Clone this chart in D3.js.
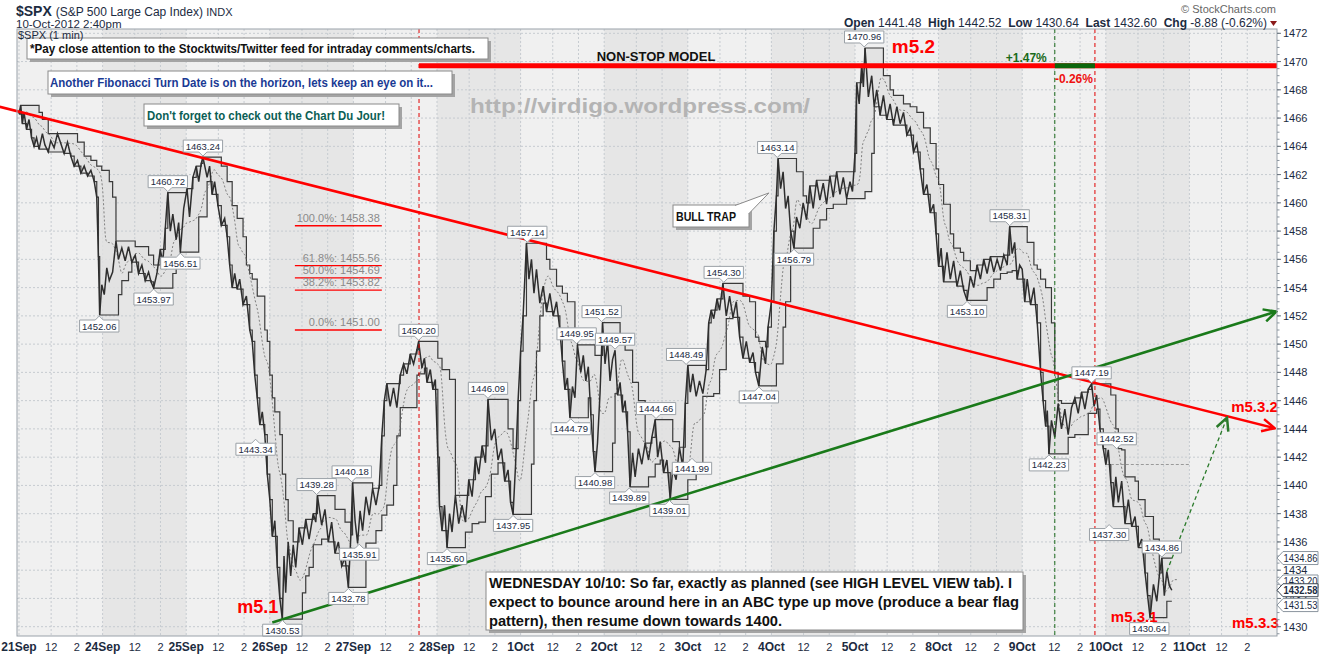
<!DOCTYPE html>
<html>
<head>
<meta charset="utf-8">
<script src="https://cdn.jsdelivr.net/npm/d3@7"></script>
<style>
  body { margin: 0; background: #fff; }
  text { font-family: "Liberation Sans", Arial, sans-serif; }
</style>
</head>
<body>
<svg id="chart" width="1320" height="655"></svg>
<script>
// ---- data (t = trading days since 21Sep open, 1 day = 390 min) ----
const dayLabels = ["21Sep", "24Sep", "25Sep", "26Sep", "27Sep", "28Sep", "1Oct", "2Oct",
  "3Oct", "4Oct", "5Oct", "8Oct", "9Oct", "10Oct", "11Oct"];
const hourTicks = [["12", 150 / 390], ["2", 270 / 390]];
const yTicks = d3.range(1430, 1473, 2);

const prices = [
  [0.00,1466.3],[0.02,1466.9],[0.04,1465.6],[0.06,1466.4],[0.09,1465.2],[0.12,1465.9],[0.15,1464.6],[0.18,1464.0],
  [0.21,1464.6],[0.24,1463.8],[0.28,1464.9],[0.31,1464.1],[0.35,1463.6],[0.38,1464.4],[0.42,1463.9],[0.46,1464.9],
  [0.50,1464.2],[0.54,1463.5],[0.58,1464.3],[0.62,1463.3],[0.66,1462.6],[0.70,1463.0],[0.74,1462.1],[0.78,1462.6],
  [0.82,1461.9],[0.86,1462.3],[0.90,1461.5],[0.93,1460.4],[0.95,1456.2],[0.965,1452.06],[0.99,1454.2],[1.02,1453.5],
  [1.05,1455.4],[1.08,1454.5],[1.12,1455.1],[1.16,1457.3],[1.19,1456.0],[1.23,1456.8],[1.27,1455.9],[1.31,1456.9],
  [1.35,1455.8],[1.39,1456.3],[1.43,1455.0],[1.47,1455.6],[1.51,1454.5],[1.55,1455.1],[1.58,1454.4],[1.61,1453.97],
  [1.65,1455.0],[1.69,1456.7],[1.72,1455.8],[1.75,1458.2],[1.78,1460.72],[1.81,1458.0],[1.84,1459.2],[1.88,1457.4],
  [1.91,1458.6],[1.93,1456.51],[1.97,1459.6],[2.01,1461.0],[2.04,1459.0],[2.08,1461.8],[2.12,1462.6],[2.15,1461.5],
  [2.18,1462.8],[2.20,1463.24],[2.25,1461.8],[2.28,1462.6],[2.31,1460.6],[2.34,1461.5],[2.38,1459.8],[2.42,1458.4],
  [2.46,1458.9],[2.49,1457.6],[2.52,1455.6],[2.55,1454.0],[2.58,1455.0],[2.61,1453.9],[2.64,1454.6],[2.68,1452.8],
  [2.72,1453.4],[2.76,1451.0],[2.79,1450.2],[2.82,1447.8],[2.85,1446.2],[2.88,1444.3],[2.91,1445.2],[2.94,1443.6],
  [2.97,1440.8],[3.00,1439.0],[3.03,1436.4],[3.06,1437.5],[3.09,1434.2],[3.12,1432.0],[3.15,1430.53],[3.17,1435.0],
  [3.19,1432.4],[3.22,1436.0],[3.25,1433.6],[3.28,1435.8],[3.31,1434.2],[3.35,1437.0],[3.39,1435.8],[3.43,1437.6],
  [3.47,1436.2],[3.52,1438.0],[3.55,1437.4],[3.57,1439.28],[3.62,1437.2],[3.66,1438.3],[3.70,1436.0],[3.74,1437.4],
  [3.78,1435.2],[3.82,1436.0],[3.86,1434.3],[3.90,1434.9],[3.94,1432.78],[3.97,1436.5],[3.99,1440.18],[4.02,1437.5],
  [4.05,1435.91],[4.08,1438.2],[4.11,1436.8],[4.15,1439.2],[4.19,1437.9],[4.23,1439.8],[4.27,1438.6],[4.31,1440.0],
  [4.34,1443.5],[4.37,1446.0],[4.40,1447.2],[4.44,1445.6],[4.48,1446.9],[4.52,1445.5],[4.56,1447.8],[4.60,1448.6],
  [4.64,1447.9],[4.68,1449.3],[4.72,1448.6],[4.76,1449.6],[4.78,1450.20],[4.82,1448.3],[4.85,1449.0],[4.88,1447.3],
  [4.92,1448.2],[4.95,1446.8],[4.98,1447.5],[5.01,1442.0],[5.03,1438.5],[5.06,1436.8],[5.09,1438.6],[5.12,1435.60],
  [5.15,1438.0],[5.18,1436.7],[5.22,1439.3],[5.26,1437.3],[5.30,1438.6],[5.34,1437.4],[5.38,1440.4],[5.42,1439.2],
  [5.46,1442.0],[5.50,1440.8],[5.54,1442.8],[5.58,1441.6],[5.61,1446.09],[5.65,1443.2],[5.69,1444.0],[5.73,1441.8],
  [5.77,1442.6],[5.81,1440.3],[5.85,1441.1],[5.88,1438.8],[5.91,1437.95],[5.94,1441.5],[5.97,1446.0],[6.00,1449.5],
  [6.03,1452.0],[6.07,1457.14],[6.10,1454.6],[6.13,1456.0],[6.16,1453.6],[6.19,1455.3],[6.23,1452.9],[6.27,1454.1],
  [6.31,1452.3],[6.35,1453.6],[6.39,1452.0],[6.43,1453.0],[6.47,1451.0],[6.50,1448.8],[6.53,1446.8],[6.56,1447.6],
  [6.59,1444.79],[6.62,1447.0],[6.65,1446.2],[6.68,1449.95],[6.72,1448.0],[6.75,1449.2],[6.78,1447.4],[6.81,1448.4],
  [6.84,1445.0],[6.87,1442.4],[6.89,1440.98],[6.92,1443.0],[6.95,1446.5],[6.98,1451.52],[7.01,1448.6],[7.04,1450.2],
  [7.07,1447.4],[7.10,1448.9],[7.13,1449.57],[7.16,1446.4],[7.19,1447.3],[7.22,1445.2],[7.25,1446.0],[7.28,1443.8],
  [7.31,1439.89],[7.34,1442.3],[7.37,1440.6],[7.41,1442.6],[7.45,1441.5],[7.49,1443.0],[7.53,1441.8],[7.57,1443.4],
  [7.61,1444.66],[7.64,1442.0],[7.67,1443.1],[7.71,1440.9],[7.75,1441.8],[7.79,1439.01],[7.82,1441.2],[7.86,1440.4],
  [7.90,1442.7],[7.94,1441.3],[7.97,1445.8],[8.00,1448.49],[8.03,1446.6],[8.06,1447.9],[8.10,1446.3],[8.14,1447.4],
  [8.18,1446.5],[8.22,1448.2],[8.25,1451.5],[8.28,1452.4],[8.31,1451.8],[8.35,1453.2],[8.38,1452.4],[8.42,1454.30],
  [8.46,1452.0],[8.50,1453.4],[8.54,1451.9],[8.58,1453.0],[8.62,1450.5],[8.66,1449.0],[8.70,1450.2],[8.74,1448.7],
  [8.78,1449.4],[8.81,1448.0],[8.85,1447.04],[8.89,1449.8],[8.93,1448.6],[8.96,1451.2],[9.00,1453.0],[9.03,1458.0],
  [9.06,1460.5],[9.08,1463.14],[9.11,1461.0],[9.14,1462.2],[9.17,1459.6],[9.20,1460.5],[9.23,1458.0],[9.27,1456.79],
  [9.30,1459.0],[9.34,1458.2],[9.38,1460.0],[9.42,1458.8],[9.46,1461.2],[9.50,1459.6],[9.54,1461.6],[9.58,1460.2],
  [9.62,1461.4],[9.66,1459.9],[9.70,1461.9],[9.74,1460.4],[9.78,1462.2],[9.82,1460.6],[9.86,1461.8],[9.90,1460.3],
  [9.94,1461.5],[9.97,1460.8],[10.00,1463.5],[10.02,1468.5],[10.05,1467.0],[10.08,1469.8],[10.10,1468.2],[10.12,1470.96],
  [10.16,1467.5],[10.20,1469.0],[10.23,1466.8],[10.26,1468.0],[10.30,1466.2],[10.34,1467.6],[10.38,1465.9],[10.42,1467.0],
  [10.46,1465.5],[10.50,1466.8],[10.54,1465.6],[10.58,1466.4],[10.62,1464.8],[10.66,1465.3],[10.70,1463.6],[10.74,1464.2],
  [10.78,1462.4],[10.82,1460.6],[10.86,1461.3],[10.90,1459.3],[10.94,1459.9],[10.97,1457.8],[11.00,1455.5],[11.03,1456.8],
  [11.06,1454.4],[11.10,1456.5],[11.14,1454.6],[11.18,1455.9],[11.22,1454.1],[11.26,1455.2],[11.30,1453.8],[11.34,1453.10],
  [11.38,1454.8],[11.42,1454.0],[11.46,1455.6],[11.50,1454.6],[11.54,1456.0],[11.58,1455.0],[11.62,1456.2],[11.66,1455.1],
  [11.70,1456.0],[11.74,1455.2],[11.78,1456.3],[11.82,1455.6],[11.85,1458.31],[11.88,1456.4],[11.91,1457.2],[11.94,1454.6],
  [11.97,1455.6],[12.00,1455.3],[12.03,1453.0],[12.06,1454.6],[12.10,1452.8],[12.14,1454.0],[12.18,1451.5],[12.22,1448.0],
  [12.25,1446.0],[12.28,1444.2],[12.30,1445.3],[12.32,1442.23],[12.35,1444.6],[12.39,1443.4],[12.43,1445.8],[12.47,1444.0],
  [12.51,1445.4],[12.55,1443.6],[12.59,1445.5],[12.63,1446.2],[12.67,1445.1],[12.71,1446.6],[12.75,1445.4],[12.79,1446.8],
  [12.83,1447.19],[12.86,1445.6],[12.89,1446.4],[12.93,1444.0],[12.97,1442.6],[13.00,1441.48],[13.03,1442.52],[13.06,1440.2],
  [13.09,1438.5],[13.12,1440.6],[13.15,1438.8],[13.19,1440.3],[13.23,1437.30],[13.27,1439.0],[13.31,1437.1],[13.35,1437.8],
  [13.39,1435.6],[13.43,1436.2],[13.47,1433.8],[13.50,1432.2],[13.53,1430.64],[13.57,1433.0],[13.61,1431.8],[13.64,1433.6],
  [13.67,1434.86],[13.70,1432.2],[13.73,1433.9],[13.76,1432.9],[13.79,1432.58]
];

// swing high / low labels: [t, value, "h" | "l"]
const swingLabels = [
  [0.96,1452.06,"l"],[1.61,1453.97,"l"],[1.93,1456.51,"l"],[1.78,1460.72,"h"],[2.20,1463.24,"h"],
  [2.83,1443.34,"l"],[3.15,1430.53,"l"],[3.56,1439.28,"h"],[3.98,1440.18,"h"],[4.07,1435.91,"l"],
  [3.94,1432.78,"l"],[4.78,1450.20,"h"],[5.61,1446.09,"h"],[5.12,1435.60,"l"],[5.91,1437.95,"l"],
  [6.08,1457.14,"h"],[6.67,1449.95,"h"],[6.60,1444.79,"l"],[6.97,1451.52,"h"],[7.13,1449.57,"h"],
  [6.89,1440.98,"l"],[7.30,1439.89,"l"],[7.62,1444.66,"h"],[7.78,1439.01,"l"],[8.05,1441.99,"l"],
  [7.98,1448.49,"h"],[8.43,1454.30,"h"],[8.85,1447.04,"l"],[9.07,1463.14,"h"],[9.27,1456.79,"l"],
  [10.11,1470.96,"h"],[11.85,1458.31,"h"],[11.34,1453.10,"l"],[12.83,1447.19,"h"],[12.32,1442.23,"l"],
  [13.13,1442.52,"h"],[13.04,1437.30,"l"],[13.67,1434.86,"h"],[13.52,1430.64,"l"]
];

const fibLevels = [["100.0%", 1458.38], ["61.8%", 1455.56], ["50.0%", 1454.69], ["38.2%", 1453.82], ["0.0%", 1451.00]];
const fibSpan = [3.30, 4.34];

const lastTags = [[1434.86, false], [1433.20, false], [1432.58, true], [1431.53, false]];
const prevClose = 1441.48;

const redTrend = [[-0.23, 1466.8], [15.02, 1444.05]];
const greenTrend = [[3.03, 1430.3], [15.04, 1452.3]];
const projection = [[13.73, 1433.9], [14.45, 1444.8]];

const modelLevel = 1469.7;
const modelStart = 4.785, buyMark = 12.39, sellMark = 12.87;

// wave counts: [label, t, price at baseline, font size]
const waves = [
  ["m5.2", 10.44, 1470.6, 19], ["m5.1", 2.61, 1430.97, 18], ["m5.3.1", 13.06, 1430.34, 15],
  ["m5.3.2", 14.50, 1445.2, 15], ["m5.3.3", 14.51, 1429.93, 15]
];

// ---- layout ----
const svg = d3.select("#chart");
const plot = { left: 17, right: 1277, top: 29, bottom: 636 };
const x = d3.scaleLinear().domain([0, 15]).range([19, 1273]);
const y = d3.scaleLinear().domain([1430, 1472]).range([626.7, 33.3]);
const ink = "#1c2b3f";

const defs = svg.append("defs");
defs.append("clipPath").attr("id", "plotClip")
  .append("rect").attr("x", plot.left).attr("y", plot.top)
  .attr("width", plot.right - plot.left).attr("height", plot.bottom - plot.top);

function arrowMarker(id, color) {
  defs.append("marker").attr("id", id)
    .attr("viewBox", "0 0 12 12").attr("refX", 11).attr("refY", 6)
    .attr("markerWidth", 15).attr("markerHeight", 15)
    .attr("markerUnits", "userSpaceOnUse").attr("orient", "auto")
    .append("path").attr("d", "M1,1 L11,6 L1,11")
    .attr("fill", "none").attr("stroke", color).attr("stroke-width", 2);
}
arrowMarker("arrRed", "#ff0000");
arrowMarker("arrGreen", "#1a7a1a");
arrowMarker("arrGreenDash", "#2a7a2a");

const g = svg.append("g").attr("clip-path", "url(#plotClip)");

// background with alternate day shading
g.append("rect").attr("x", plot.left).attr("y", plot.top)
  .attr("width", plot.right - plot.left).attr("height", plot.bottom - plot.top)
  .attr("fill", "#f0f0f0");
g.selectAll("rect.day").data(d3.range(1, 15, 2)).join("rect")
  .attr("class", "day")
  .attr("x", d => x(d)).attr("width", d => x(d + 1) - x(d))
  .attr("y", plot.top).attr("height", plot.bottom - plot.top)
  .attr("fill", "#e6e6e6");

// grid
const vTicks = [];
dayLabels.forEach((lab, d) => {
  vTicks.push({ t: d, label: lab, bold: true });
  hourTicks.forEach(([h, off]) => vTicks.push({ t: d + off, label: h, bold: false }));
});
g.selectAll("line.vgrid").data(vTicks).join("line")
  .attr("x1", d => x(d.t)).attr("x2", d => x(d.t))
  .attr("y1", plot.top).attr("y2", plot.bottom)
  .attr("stroke", "#c6cbd0").attr("stroke-dasharray", "2,2");
g.selectAll("line.hgrid").data(yTicks).join("line")
  .attr("x1", plot.left).attr("x2", plot.right)
  .attr("y1", d => y(d)).attr("y2", d => y(d))
  .attr("stroke", "#c6cbd0").attr("stroke-dasharray", "2,2");

// price channel (rolling high / low)
const win = 0.2;
const channel = prices.map(([t]) => {
  const w = prices.filter(d => d[0] <= t && d[0] >= t - win);
  const hi = d3.max(w, d => d[1]), lo = d3.min(w, d => d[1]);
  return { t, hi, lo, mid: (hi + lo) / 2 };
});
g.append("path").datum(channel)
  .attr("d", d3.area().curve(d3.curveStepAfter).x(d => x(d.t)).y0(d => y(d.lo)).y1(d => y(d.hi)))
  .attr("fill", "#e0e0e0").attr("fill-opacity", 0.85);
["hi", "lo"].forEach(k => {
  g.append("path").datum(channel)
    .attr("d", d3.line().curve(d3.curveStepAfter).x(d => x(d.t)).y(d => y(d[k])))
    .attr("fill", "none").attr("stroke", "#3a3a3a").attr("stroke-width", 1.2);
});
g.append("path").datum(channel)
  .attr("d", d3.line().curve(d3.curveBasis).x(d => x(d.t + win / 3)).y(d => y(d.mid)))
  .attr("fill", "none").attr("stroke", "#666").attr("stroke-width", 0.8).attr("stroke-dasharray", "2,2");

// previous close reference
g.append("line").attr("x1", x(13)).attr("x2", x(14))
  .attr("y1", y(prevClose)).attr("y2", y(prevClose))
  .attr("stroke", "#999").attr("stroke-dasharray", "3,2");

// fibonacci levels
fibLevels.forEach(([pct, v]) => {
  g.append("line").attr("x1", x(fibSpan[0])).attr("x2", x(fibSpan[1]))
    .attr("y1", y(v)).attr("y2", y(v)).attr("stroke", "#ff0000").attr("stroke-width", 1.3);
  g.append("text").attr("x", x(fibSpan[1]) - 2).attr("y", y(v) - 4)
    .attr("text-anchor", "end").attr("font-size", 11).attr("fill", "#8a8a8a")
    .text(`${pct}: ${v.toFixed(2)}`);
});

// price
g.append("path").datum(prices)
  .attr("d", d3.line().x(d => x(d[0])).y(d => y(d[1])))
  .attr("fill", "none").attr("stroke", "#2e2e2e").attr("stroke-width", 1.5);

// vertical markers
[[modelStart, "#e00000"], [buyMark, "#1a6a1a"], [sellMark, "#e00000"]].forEach(([t, c]) => {
  g.append("line").attr("x1", x(t)).attr("x2", x(t)).attr("y1", plot.top).attr("y2", plot.bottom)
    .attr("stroke", c).attr("stroke-width", 1).attr("stroke-dasharray", "4,3");
});

// trend lines
const tl = d3.line().x(d => x(d[0])).y(d => y(d[1]));
svg.append("path").datum(redTrend).attr("d", tl)
  .attr("stroke", "#ff0000").attr("stroke-width", 2.6).attr("fill", "none").attr("marker-end", "url(#arrRed)");
svg.append("path").datum(greenTrend).attr("d", tl)
  .attr("stroke", "#1a7a1a").attr("stroke-width", 2.6).attr("fill", "none").attr("marker-end", "url(#arrGreen)");
svg.append("path").datum(projection).attr("d", tl)
  .attr("stroke", "#2a7a2a").attr("stroke-width", 1.3).attr("stroke-dasharray", "4,3")
  .attr("fill", "none").attr("marker-end", "url(#arrGreenDash)");

// non-stop model line
svg.append("line").attr("x1", x(modelStart)).attr("x2", plot.right)
  .attr("y1", y(modelLevel)).attr("y2", y(modelLevel))
  .attr("stroke", "#ff0000").attr("stroke-width", 5);
svg.append("line").attr("x1", x(buyMark)).attr("x2", x(sellMark))
  .attr("y1", y(modelLevel)).attr("y2", y(modelLevel))
  .attr("stroke", "#0b660b").attr("stroke-width", 5);
svg.append("text").attr("x", x(buyMark) - 8).attr("y", y(modelLevel) - 4)
  .attr("text-anchor", "end").attr("font-size", 12).attr("font-weight", "bold").attr("fill", "#1a6a1a")
  .text("+1.47%");
svg.append("text").attr("x", x(sellMark) - 2).attr("y", y(modelLevel) + 17)
  .attr("text-anchor", "end").attr("font-size", 12).attr("font-weight", "bold").attr("fill", "#ee1111")
  .text("-0.26%");
svg.append("text").attr("x", 656).attr("y", 61).attr("text-anchor", "middle")
  .attr("font-size", 13).attr("font-weight", "bold").attr("fill", "#111")
  .text("NON-STOP MODEL");

// watermark
svg.append("text").attr("x", 470).attr("y", 113)
  .attr("font-size", 21).attr("font-weight", "bold").attr("fill", "#b4b4b4")
  .attr("textLength", 340).attr("lengthAdjust", "spacingAndGlyphs")
  .text("http://virdigo.wordpress.com/");

// swing labels
const lab = svg.append("g");
swingLabels.forEach(([t, v, kind]) => {
  const cx = x(t), yv = y(v), h = 12;
  const txt = lab.append("text").attr("font-size", 9.5).attr("fill", ink)
    .attr("text-anchor", "middle").text(v.toFixed(2));
  const tw = txt.node().getComputedTextLength() + 5;
  const x0 = cx - tw / 2, x1 = cx + tw / 2;
  let d;
  if (kind === "h") {
    const yb = yv - 5, yt = yb - h;
    d = `M${x0},${yb}L${cx - 4},${yb}L${cx},${yv - 1}L${cx + 4},${yb}L${x1},${yb}L${x1},${yt}L${x0},${yt}Z`;
    txt.attr("x", cx).attr("y", yt + 9.5);
  } else {
    const yt = yv + 5, yb = yt + h;
    d = `M${x0},${yt}L${cx - 4},${yt}L${cx},${yv + 1}L${cx + 4},${yt}L${x1},${yt}L${x1},${yb}L${x0},${yb}Z`;
    txt.attr("x", cx).attr("y", yt + 9.5);
  }
  lab.insert("path", () => txt.node()).attr("d", d).attr("fill", "#fff").attr("stroke", "#9aa0a6");
});

// wave labels
waves.forEach(([name, t, v, fs]) => {
  svg.append("text").attr("x", x(t)).attr("y", y(v))
    .attr("font-size", fs).attr("font-weight", "bold").attr("fill", "#ff0000").text(name);
});

// note boxes
function noteBox(bx, by, bw, bh, lines, o) {
  const n = svg.append("g");
  n.append("rect").attr("x", bx + 3).attr("y", by + 3).attr("width", bw).attr("height", bh).attr("fill", "#a4a4a4");
  n.append("rect").attr("x", bx).attr("y", by).attr("width", bw).attr("height", bh)
    .attr("fill", "#fff").attr("stroke", "#8a8a8a");
  lines.forEach((ln, i) => {
    n.append("text").attr("x", o.tx).attr("y", o.ty + i * (o.lh || 0))
      .attr("font-size", o.size).attr("font-weight", "bold").attr("fill", o.color)
      .attr("textLength", o.len[i]).attr("lengthAdjust", "spacingAndGlyphs").text(ln);
  });
  return n;
}
noteBox(27, 38, 461, 21, ["*Pay close attention to the Stocktwits/Twitter feed for intraday comments/charts."],
  { tx: 30, ty: 53, size: 12, color: "#111", len: [445] });
noteBox(48, 71, 404, 23, ["Another Fibonacci Turn Date is on the horizon, lets keep an eye on it..."],
  { tx: 50, ty: 87, size: 12, color: "#1a3a94", len: [383] });
noteBox(144, 104, 255, 22, ["Don't forget to check out the Chart Du Jour!"],
  { tx: 147, ty: 120, size: 12, color: "#0b5e55", len: [238] });
noteBox(486, 572, 537, 58, [
  "WEDNESDAY 10/10: So far, exactly as planned (see HIGH LEVEL VIEW tab).  I",
  "expect to bounce around here in an ABC type up move (produce a bear flag",
  "pattern), then resume down towards 1400."
], { tx: 489, ty: 588, lh: 19, size: 14, color: "#111", len: [523, 530, 293] });

// bull trap callout
const bt = noteBox(673, 205, 76, 22, ["BULL TRAP"], { tx: 676, ty: 221, size: 12, color: "#111", len: [60] });
bt.append("path")
  .attr("d", `M735,205.5L${x(8.97)},${y(1460.7)}L748.5,214`)
  .attr("fill", "#fff").attr("stroke", "#8a8a8a");
bt.append("path").attr("d", "M736,206L748,206L748,213Z").attr("fill", "#fff");

// frame & axes
svg.append("rect").attr("x", plot.left).attr("y", plot.top)
  .attr("width", plot.right - plot.left).attr("height", plot.bottom - plot.top)
  .attr("fill", "none").attr("stroke", "#9aa2aa");

const ax = svg.append("g");
ax.selectAll("line.minor").data(d3.range(1429.5, 1472.5, 0.5)).join("line")
  .attr("x1", plot.right).attr("x2", plot.right + 2.5)
  .attr("y1", d => y(d)).attr("y2", d => y(d)).attr("stroke", "#8a949e");
ax.selectAll("line.major").data(yTicks).join("line")
  .attr("x1", plot.right).attr("x2", plot.right + 4)
  .attr("y1", d => y(d)).attr("y2", d => y(d)).attr("stroke", "#6a747e");
ax.selectAll("text.ytick").data(yTicks).join("text")
  .attr("x", plot.right + 6).attr("y", d => y(d) + 4)
  .attr("font-size", 11).attr("fill", ink).text(d => d);

svg.selectAll("text.xtick").data(vTicks).join("text")
  .attr("x", d => x(d.t)).attr("y", 651).attr("text-anchor", "middle")
  .attr("font-size", d => d.bold ? 12 : 11).attr("font-weight", d => d.bold ? "bold" : "normal")
  .attr("fill", ink).text(d => d.label);

// last value tags
lastTags.forEach(([v, bold]) => {
  const yc = y(v);
  svg.append("path")
    .attr("d", `M${plot.right},${yc}L${plot.right + 6},${yc - 6.5}L1318,${yc - 6.5}L1318,${yc + 6.5}L${plot.right + 6},${yc + 6.5}Z`)
    .attr("fill", "#fff").attr("stroke", bold ? "#3a4450" : "#8a949e");
  svg.append("text").attr("x", plot.right + 6.5).attr("y", yc + 3.5)
    .attr("font-size", 10).attr("font-weight", bold ? "bold" : "normal")
    .attr("textLength", 34).attr("lengthAdjust", "spacingAndGlyphs")
    .attr("fill", ink).text(v.toFixed(2));
});

// header
const hd = svg.append("text").attr("x", 16).attr("y", 15.5).attr("fill", ink);
hd.append("tspan").attr("font-size", 14).attr("font-weight", "bold").text("$SPX ");
hd.append("tspan").attr("font-size", 12).text("(S&P 500 Large Cap Index) ");
hd.append("tspan").attr("font-size", 11).text("INDX");
svg.append("text").attr("x", 16).attr("y", 28).attr("font-size", 11.5).attr("fill", ink).text("10-Oct-2012 2:40pm");
svg.append("text").attr("x", 18).attr("y", 39).attr("font-size", 11).attr("fill", ink).text("$SPX (1 min)");
svg.append("text").attr("x", 1276).attr("y", 13).attr("text-anchor", "end")
  .attr("font-size", 11).attr("fill", "#666").text("© StockCharts.com");

const quote = [["Open", "1441.48"], ["High", "1442.52"], ["Low", "1430.64"], ["Last", "1432.60"], ["Chg", "-8.88 (-0.62%)"]];
const qt = svg.append("text").attr("x", 1267).attr("y", 27).attr("text-anchor", "end").attr("fill", ink);
quote.forEach(([k, v], i) => {
  qt.append("tspan").attr("font-size", 12).attr("font-weight", "bold").text((i ? "  " : "") + k + " ");
  qt.append("tspan").attr("font-size", 12).text(v);
});
qt.attr("xml:space", "preserve");
svg.append("path").attr("d", "M1270,21L1277,21L1273.5,26Z").attr("fill", "#8b1a1a");
</script>
</body>
</html>
